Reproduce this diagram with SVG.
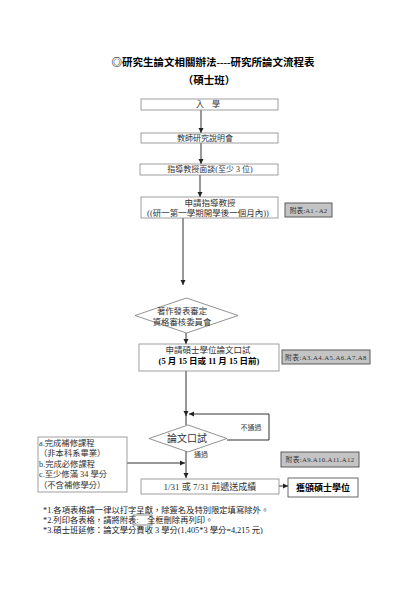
<svg xmlns="http://www.w3.org/2000/svg" width="420" height="593" viewBox="0 0 420 593">
<style>
text{font-family:"Liberation Serif","Noto Sans CJK TC",serif;fill:#333;dominant-baseline:central;text-anchor:middle}
.t{font-size:10.5px;font-weight:bold;fill:#000}
.b{font-size:8px}
.bd{font-weight:bold;fill:#000}
.g{font-size:6.8px;fill:#333}
.s{font-size:7px;fill:#444}
.n{font-size:8.3px;text-anchor:start;fill:#222}
.l{font-size:8.3px;text-anchor:start}
rect.bx{fill:#fff;stroke:#888;stroke-width:0.8}
rect.gr{fill:#c4c4c4;stroke:#5a5a5a;stroke-width:1}
polygon.dm{fill:#fff;stroke:#777;stroke-width:0.8}
.c line,.c polyline{stroke:#333;stroke-width:1;fill:none}
</style>
<defs>
<marker id="ah" markerWidth="6" markerHeight="6" refX="5" refY="3" orient="auto" markerUnits="userSpaceOnUse">
<path d="M0,0.5 L5,3 L0,5.5 Z" fill="#222"/>
</marker>
</defs>
<rect width="420" height="593" fill="#fff"/>
<g id="title">
<text class="t" x="213" y="62">◎研究生論文相關辦法----研究所論文流程表</text>
<text class="t" x="209" y="80">（碩士班）</text>
</g>
<g class="c" id="connectors">
<line x1="201" y1="110" x2="201" y2="133" marker-end="url(#ah)"/>
<line x1="201" y1="143" x2="201" y2="164" marker-end="url(#ah)"/>
<line x1="200" y1="175" x2="200" y2="197" marker-end="url(#ah)"/>
<line x1="183" y1="218" x2="183" y2="285" marker-end="url(#ah)"/>
<line x1="186" y1="330" x2="186" y2="344" marker-end="url(#ah)"/>
<line x1="186" y1="371" x2="186" y2="416" marker-end="url(#ah)"/>
<line x1="186" y1="415" x2="186" y2="425"/>
<polyline points="227,440 269,440 269,414 189,414" marker-end="url(#ah)"/>
<line x1="186" y1="451" x2="186" y2="478" marker-end="url(#ah)"/>
<line x1="127" y1="463" x2="185" y2="463" marker-end="url(#ah)"/>
<line x1="276" y1="486" x2="288" y2="486" marker-end="url(#ah)"/>
</g>
<g id="n1">
<rect class="bx" x="141" y="99" width="137" height="11"/>
<text class="b" x="208" y="104.5">入　學</text>
</g>
<g id="n2">
<rect class="bx" x="141" y="133" width="137" height="10"/>
<text class="b" x="205" y="138">教師研究說明會</text>
</g>
<g id="n3">
<rect class="bx" x="140" y="164" width="138" height="11"/>
<text class="b" x="210" y="169.5">指導教授面談(至少 3 位)</text>
</g>
<g id="n4">
<rect class="bx" x="141" y="197" width="137" height="21"/>
<text class="b" x="210" y="202.5" style="font-size:8.5px">申請指導教授</text>
<text class="b" x="208" y="213" style="font-size:8.5px">((研一第一學期開學後一個月內))</text>
</g>
<g id="a1">
<rect class="gr" x="285" y="203" width="47" height="14"/>
<text class="g" x="308.5" y="210">附表:A1 - A2</text>
</g>
<g id="d1">
<polygon class="dm" points="186.5,298 238,315.5 186.5,333 135,315.5"/>
<text class="b" x="182" y="311" style="font-size:8.4px">著作發表審定</text>
<text class="b" x="182" y="322" style="font-size:8.4px">資格審核委員會</text>
</g>
<g id="n5">
<rect class="bx" x="139" y="344" width="140" height="27"/>
<text class="b" x="208" y="350" style="font-size:8.5px">申請碩士學位論文口試</text>
<text class="b bd" x="209" y="361" style="font-size:8.5px">(5 月 15 日或 11 月 15 日前)</text>
</g>
<g id="a2">
<rect class="gr" x="282" y="350" width="88" height="14"/>
<text class="g" x="326" y="357" style="letter-spacing:0.4px">附表:A3.A4.A5.A6.A7.A8</text>
</g>
<g id="d2">
<polygon class="dm" points="188,425 227,438.5 188,452 149,438.5"/>
<text class="b" x="187" y="438" style="font-size:10px">論文口試</text>
</g>
<g id="lbl">
<text class="s" x="251" y="428">不通過</text>
<text class="s" x="201" y="455">通過</text>
</g>
<g id="req">
<rect class="bx" x="38" y="437" width="89" height="55"/>
<text class="l" x="39" y="443">a.完成補修課程</text>
<text class="l" x="39" y="453.5">（非本科系畢業）</text>
<text class="l" x="39" y="464">b.完成必修課程</text>
<text class="l" x="39" y="474.5">c.至少修滿 34 學分</text>
<text class="l" x="39" y="485.5">（不含補修學分）</text>
</g>
<g id="a3">
<rect class="gr" x="281" y="452" width="78" height="15"/>
<text class="g" x="320" y="459.5" style="letter-spacing:0.3px">附表:A9.A10.A11.A12</text>
</g>
<g id="n6">
<rect class="bx" x="141" y="479" width="138" height="15"/>
<text class="b" x="210" y="486.5" style="font-size:9px">1/31 或 7/31 前遞送成績</text>
</g>
<g id="n7">
<rect class="bx" x="288" y="478" width="70" height="19" style="stroke:#444"/>
<text class="b bd" x="323" y="487.5" style="font-size:9px">獲頒碩士學位</text>
</g>
<g id="notes">
<text class="n" x="43" y="510">*1.各項表格請一律以打字呈獻，除簽名及特別限定填寫除外。</text>
<text class="n" x="43" y="520">*2.列印各表格，請將附表:　全框刪除再列印。</text>
<rect x="133" y="515" width="19" height="10" fill="none" stroke="#555" stroke-width="0.7"/>
<text class="n" x="43" y="530">*3.碩士班延修：論文學分費收 3 學分(1,405*3 學分=4,215 元)</text>
</g>
</svg>
